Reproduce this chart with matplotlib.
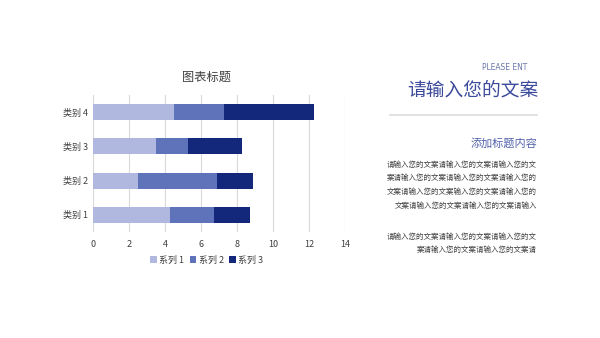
import numpy as np
import matplotlib
matplotlib.use('Agg')
import matplotlib.pyplot as plt

plt.rcParams['font.family'] = ['Noto Sans CJK SC', 'DejaVu Sans']

# chart data
categories = ['类别 1', '类别 2', '类别 3', '类别 4']
series_names = ['系列 1', '系列 2', '系列 3']
s1 = [4.3, 2.5, 3.5, 4.5]
s2 = [2.4, 4.4, 1.8, 2.8]
s3 = [2.0, 2.0, 3.0, 5.0]
colors = ['#b0b8df', '#5f73bb', '#13287a']

body1 = ['请输入您的文案请输入您的文案请输入您的文',
         '案请输入您的文案请输入您的文案请输入您的',
         '文案请输入您的文案输入您的文案请输入您的',
         '文案请输入您的文案请输入您的文案请输入']
body2 = ['请输入您的文案请输入您的文案请输入您的文',
         '案请输入您的文案请输入您的文案请']

fig = plt.figure(figsize=(6, 3.38), dpi=100)
ax = fig.add_axes([0.155, 0.3136, 0.42, 0.405])

y = np.arange(len(categories))
left = np.zeros(len(categories))
for vals, name, c in zip([s1, s2, s3], series_names, colors):
    ax.barh(y, vals, left=left, height=0.47, color=c, label=name, zorder=3)
    left = left + np.array(vals)

ax.set_xlim(0, 14)
ax.set_ylim(-0.5, 3.5)
ax.set_xticks(range(0, 15, 2))
ax.set_yticks(y)
ax.set_yticklabels(categories)
ax.tick_params(axis='both', length=0, labelsize=6.5, colors='#404040')
ax.tick_params(axis='x', pad=6)
ax.grid(axis='x', color='#d9d9d9', linewidth=0.8, zorder=0)
for s in ax.spines.values():
    s.set_visible(False)

# title and legend are centred on the chart area, not the plot area
fig.text(207 / 600, 1 - 77 / 338, '图表标题', ha='center', va='center',
         fontsize=8.8, color='#404040')
handles, labels = ax.get_legend_handles_labels()
fig.legend(handles, labels, loc='center', bbox_to_anchor=(207 / 600, 1 - 260 / 338),
           ncol=3, frameon=False, fontsize=6.5, handlelength=0.7, handleheight=0.7,
           handletextpad=0.3, columnspacing=0.6, labelcolor='#404040')

# right panel text
fig.text(527 / 600, 1 - 68 / 338, 'PLEASE ENT', ha='right', va='center',
         fontsize=6, color='#6b78a8', family='DejaVu Sans', fontstretch='condensed')
fig.text(538 / 600, 1 - 90 / 338, '请输入您的文案', ha='right', va='center',
         fontsize=13.5, color='#3b4a9a')
fig.add_artist(plt.Line2D([390 / 600, 537 / 600], [1 - 115 / 338, 1 - 115 / 338],
                          color='#dcdcdc', linewidth=1.2))
fig.text(537 / 600, 1 - 143 / 338, '添加标题内容', ha='right', va='center',
         fontsize=8, color='#5363ab')

ys1 = [165, 178, 192, 206]
for t, yy in zip(body1, ys1):
    fig.text(537 / 600, 1 - yy / 338, t, ha='right', va='center', fontsize=5.4, color='#404040')
ys2 = [237, 250]
for t, yy in zip(body2, ys2):
    fig.text(537 / 600, 1 - yy / 338, t, ha='right', va='center', fontsize=5.4, color='#404040')

fig.savefig('out.png', dpi=100)
